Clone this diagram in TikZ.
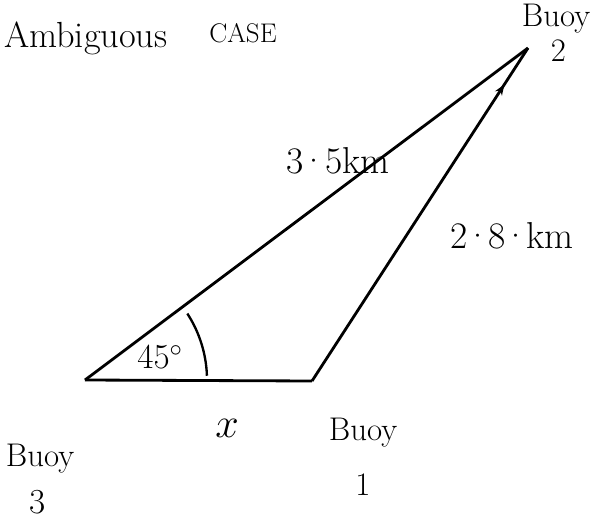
\RequirePackage{fix-cm}
\documentclass[tikz,border=0pt]{standalone}
\usetikzlibrary{positioning,decorations.markings,arrows.meta}

\newcommand{\dotc}{\kern-2.5pt\textperiodcentered\kern-2.5pt}

\begin{document}
\begin{tikzpicture}[x=0.03cm,y=0.03cm]
  %
  \useasboundingbox (0,0) rectangle (592,522);
  %
  \coordinate (b3) at (85,142);
  \coordinate (b1) at (312,141);
  \coordinate (b2) at (528,474);
  %
  \draw[line width=2.4pt, line join=round] (b3) -- (b2);
  \draw[line width=2.4pt, line join=round] (b3) -- (b1);
  \draw[line width=2.4pt, line join=round, postaction={decorate},
        decoration={markings, mark=at position 0.89 with {\arrow{Stealth[length=9pt,width=7pt]}}}] (b1) -- (b2);
  %
  \draw[line width=2pt] ([shift={(2:122)}]b3) arc (2:33:122);
  \node[font=\fontsize{30}{32}\selectfont] (ang) at (160,165) {$45^\circ$};
  %
  \node[anchor=base west, font=\fontsize{31}{33}\selectfont] (ttl) at (0,474) {Ambiguous};
  \node[font=\fontsize{23}{25}\selectfont] (cs) at (243,489) {CASE};
  %
  \node[font=\fontsize{32}{34}\selectfont] (side2) at (338,361) {3\dotc 5km};
  \node[font=\fontsize{32}{34}\selectfont] (side1) at (512,286) {2\dotc 8\dotc km};
  \node[font=\fontsize{36}{38}\selectfont] (sidex) at (227,94) {$x$};
  %
  \node[anchor=base, font=\fontsize{28}{30}\selectfont] (bu2) at (556,495) {Buoy};
  \node[below=-2pt of bu2, xshift=2pt, font=\fontsize{28}{30}\selectfont] (n2) {2};
  \node[anchor=base, font=\fontsize{28}{30}\selectfont] (bu3) at (40,56) {Buoy};
  \node[font=\fontsize{30}{32}\selectfont] (n3) at (38,20) {3};
  \node[anchor=base, font=\fontsize{28}{30}\selectfont] (bu1) at (363,82) {Buoy};
  \node[font=\fontsize{28}{30}\selectfont] (n1) at (363,37) {1};
  %
\end{tikzpicture}
\end{document}
